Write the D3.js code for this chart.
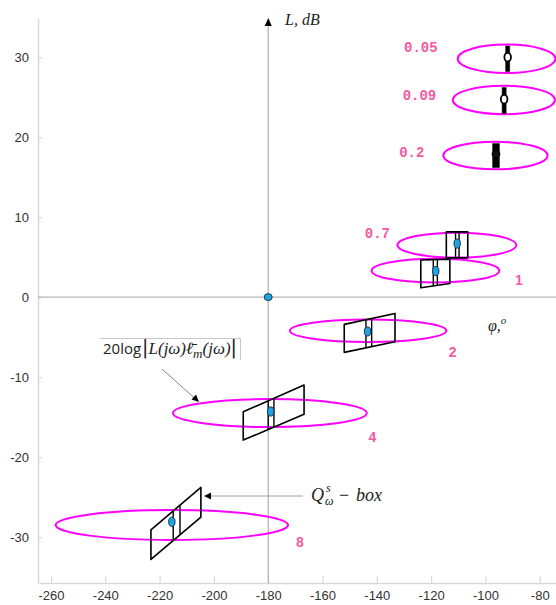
<!DOCTYPE html>
<html>
<head>
<meta charset="utf-8">
<script src="https://cdn.jsdelivr.net/npm/d3@7"></script>
<style>
  html, body { margin: 0; padding: 0; background: #fff; }
  svg { display: block; }
</style>
</head>
<body>
<svg id="chart" width="556" height="605"></svg>
<script>
// Frequencies (rad/s) at which the templates are drawn
const omegas = ["0.05", "0.09", "0.2", "0.7", "1", "2", "4", "8"];
// Nominal open-loop response: phase (deg) and magnitude (dB)
const nomPhase = [-91.8, -93.1, -96.1, -110.4, -118.3, -143.4, -179.1, -215.5];
const nomGain = [30.0, 24.75, 17.9, 6.7, 3.25, -4.3, -14.3, -28.1];
const markerKind = ["open", "open", "solid", "blue", "blue", "blue", "blue", "blue"];

// Uncertainty ellipses 20log|L(jw) l_m(jw)|: centre and half-axes
const ellPhase = [-92.2, -93.2, -96.3, -110.5, -118.4, -143.2, -179.4, -215.5];
const ellGain = [29.8, 24.65, 17.7, 6.5, 3.3, -4.2, -14.5, -28.5];
const ellHalfPhase = [18.0, 18.8, 19.2, 21.9, 23.5, 28.8, 35.7, 42.8];
const ellHalfGain = [1.78, 1.78, 1.72, 1.56, 1.48, 1.41, 1.75, 1.875];

// Q-boxes: phase extent and magnitude at the left / right edges
const boxPhaseLo = [-92.55, -93.85, -97.35, -114.4, -123.8, -152.0, -189.2, -223.2];
const boxPhaseHi = [-91.05, -92.35, -94.85, -106.5, -113.1, -133.3, -166.8, -204.8];
const boxTopLo = [31.4, 26.2, 19.2, 8.16, 4.63, -3.41, -14.34, -29.1];
const boxBotLo = [28.2, 22.96, 16.2, 4.91, 1.16, -6.91, -17.88, -32.8];
const boxTopHi = [31.4, 26.2, 19.2, 8.16, 4.75, -2.04, -11.0, -23.8];
const boxBotHi = [28.2, 22.96, 16.2, 4.91, 1.71, -5.59, -14.66, -27.5];
// inner phase lines of each box (null where the box is a thin bar)
const innerLo = [null, null, null, -111.0, -119.2, -144.0, -180.0, -215.0];
const innerHi = [null, null, null, -109.7, -117.7, -141.9, -177.9, -212.5];

// Critical point
const critical = [{ phase: -180, gain: 0 }];

// Axis ticks
const phaseTicks = [-260, -240, -220, -200, -180, -160, -140, -120, -100, -80];
const gainTicks = [-30, -20, -10, 0, 10, 20, 30];

const svg = d3.select("#chart");
const x = d3.scaleLinear().domain([-264.8, -74]).range([38, 556]);
const y = d3.scaleLinear().domain([-35.75, 34.9]).range([583, 18]);

const axisColor = "#d9d9d9";
const labelColor = "#f25aa3";

// Left and bottom axes (ticks pointing inwards)
const gy = svg.append("g").attr("transform", `translate(${x.range()[0]},0)`)
  .call(d3.axisLeft(y).tickValues(gainTicks).tickSize(-4).tickSizeOuter(0).tickPadding(9));
const gx = svg.append("g").attr("transform", `translate(0,${y.range()[0]})`)
  .call(d3.axisBottom(x).tickValues(phaseTicks).tickSize(-7).tickSizeOuter(0).tickPadding(8));
[gx, gy].forEach(g => {
  g.select(".domain").attr("stroke", axisColor).attr("stroke-width", 1.5);
  g.selectAll(".tick line").attr("stroke", axisColor).attr("stroke-width", 1.2);
  g.selectAll(".tick text").attr("fill", "#333").style("font-family", "'Liberation Sans', Arial, sans-serif").style("font-size", "13px");
});
gx.selectAll(".tick text").text(d => d3.format("d")(d).replace("−", "-"));
gy.selectAll(".tick text").text(d => d3.format("d")(d).replace("−", "-"));

// Reference lines through the critical point
svg.append("line")
  .attr("x1", x.range()[0]).attr("x2", x.range()[1])
  .attr("y1", y(0)).attr("y2", y(0))
  .attr("stroke", "#a6a6a6").attr("stroke-width", 1);
svg.append("line")
  .attr("x1", x(-180)).attr("x2", x(-180))
  .attr("y1", y.range()[0]).attr("y2", y.range()[1] + 6)
  .attr("stroke", "#b0b0b0").attr("stroke-width", 1.2);
svg.append("path")
  .attr("d", `M${x(-180)},${y.range()[1]} l-3.5,8 h7 z`)
  .attr("fill", "#000");

// Axis titles
svg.append("text")
  .attr("x", 285).attr("y", 25)
  .style("font-family", "'Liberation Serif', 'DejaVu Serif', serif")
  .style("font-style", "italic").style("font-size", "16px").attr("fill", "#222")
  .text("L, dB");
const phiTitle = svg.append("text")
  .attr("x", 488).attr("y", 331)
  .style("font-family", "'Liberation Serif', 'DejaVu Serif', serif")
  .style("font-style", "italic").style("font-size", "16px").attr("fill", "#222");
phiTitle.append("tspan").text("φ,");
phiTitle.append("tspan").attr("dy", -7).style("font-size", "11px").text("o");

const idx = d3.range(omegas.length);

// Uncertainty ellipses
svg.append("g").selectAll("ellipse").data(idx).join("ellipse")
  .attr("cx", i => x(ellPhase[i]))
  .attr("cy", i => y(ellGain[i]))
  .attr("rx", i => x(ellPhase[i] + ellHalfPhase[i]) - x(ellPhase[i]))
  .attr("ry", i => y(ellGain[i] - ellHalfGain[i]) - y(ellGain[i]))
  .attr("fill", "none").attr("stroke", "#ff00ff").attr("stroke-width", 2);

// Q-boxes
const boxes = svg.append("g");
idx.forEach(i => {
  const corners = [
    [x(boxPhaseLo[i]), y(boxTopLo[i])],
    [x(boxPhaseHi[i]), y(boxTopHi[i])],
    [x(boxPhaseHi[i]), y(boxBotHi[i])],
    [x(boxPhaseLo[i]), y(boxBotLo[i])]
  ];
  const isBar = innerLo[i] === null;
  boxes.append("path")
    .attr("d", "M" + corners.join("L") + "Z")
    .attr("fill", isBar ? "#000" : "none")
    .attr("stroke", "#000")
    .attr("stroke-width", isBar ? 0.5 : 1.6)
    .attr("stroke-linejoin", "round");
  if (!isBar) {
    // magnitude of the top / bottom edge at a given phase
    const lerp = (a, b, p) => a + (b - a) * (p - boxPhaseLo[i]) / (boxPhaseHi[i] - boxPhaseLo[i]);
    [innerLo[i], innerHi[i]].forEach(p => {
      boxes.append("line")
        .attr("x1", x(p)).attr("x2", x(p))
        .attr("y1", y(lerp(boxTopLo[i], boxTopHi[i], p)))
        .attr("y2", y(lerp(boxBotLo[i], boxBotHi[i], p)))
        .attr("stroke", "#000").attr("stroke-width", 1.4);
    });
  }
});

// Nominal points
const marks = svg.append("g");
idx.forEach(i => {
  const k = markerKind[i];
  marks.append("ellipse")
    .attr("cx", x(nomPhase[i])).attr("cy", y(nomGain[i]))
    .attr("rx", k === "blue" ? 3.2 : k === "solid" ? 4 : 3.3)
    .attr("ry", k === "blue" ? 4.6 : k === "solid" ? 3.5 : 4.3)
    .attr("fill", k === "open" ? "#fff" : k === "solid" ? "#111" : "#1ea3e3")
    .attr("stroke", k === "blue" ? "#1b3550" : "#000")
    .attr("stroke-width", k === "open" ? 1.8 : 1);
});
marks.selectAll("ellipse.crit").data(critical).join("ellipse")
  .attr("class", "crit")
  .attr("cx", d => x(d.phase)).attr("cy", d => y(d.gain))
  .attr("rx", 4).attr("ry", 3.5)
  .attr("fill", "#1ea3e3").attr("stroke", "#1b3550").attr("stroke-width", 1);

// Frequency labels, anchored in (phase, dB) coordinates at their baseline centre
const labelAnchor = [
  [-123.8, 30.66], [-124.3, 24.6], [-127.1, 17.5], [-139.8, 7.44],
  [-87.7, 1.5], [-112.1, -7.46], [-141.6, -18.1], [-168.3, -31.25]
];
svg.append("g").selectAll("text").data(idx).join("text")
  .attr("x", i => x(labelAnchor[i][0]))
  .attr("y", i => y(labelAnchor[i][1]))
  .attr("text-anchor", "middle")
  .attr("fill", labelColor)
  .style("font-family", i => omegas[i].includes(".") ? "'Liberation Mono', 'DejaVu Sans Mono', monospace" : "'Liberation Sans', Arial, sans-serif")
  .style("font-weight", "bold")
  .style("font-size", "14px")
  .text(i => omegas[i]);

// Annotation: ellipse description
svg.append("path")
  .attr("d", "M100,338.5 H240.5 V360")
  .attr("fill", "none").attr("stroke", "#c8c8c8").attr("stroke-width", 1);
const ann = svg.append("text").attr("x", 103).attr("y", 354).attr("fill", "#222");
ann.append("tspan").style("font-family", "'Open Sans', 'Liberation Sans', sans-serif").style("font-size", "15px").text("20log");
ann.append("tspan").style("font-family", "'DejaVu Sans', sans-serif").style("font-size", "19px").attr("dx", 1).text("|");
ann.append("tspan").style("font-family", "'Liberation Serif', 'DejaVu Serif', serif").style("font-style", "italic").style("font-size", "17px").text("L(jω)ℓ̄");
ann.append("tspan").style("font-family", "'Liberation Serif', 'DejaVu Serif', serif").style("font-style", "italic").style("font-size", "13px").attr("dy", 4).text("m");
ann.append("tspan").style("font-family", "'Liberation Serif', 'DejaVu Serif', serif").style("font-style", "italic").style("font-size", "17px").attr("dy", -4).text("(jω)");
ann.append("tspan").style("font-family", "'DejaVu Sans', sans-serif").style("font-size", "19px").text("|");

svg.append("line")
  .attr("x1", 162).attr("y1", 369).attr("x2", 195).attr("y2", 398.5)
  .attr("stroke", "#666").attr("stroke-width", 0.8);
svg.append("path")
  .attr("d", "M199,402 L191.5,399.5 L196,394.5 Z")
  .attr("fill", "#000");

// Annotation: Q-box description
svg.append("line")
  .attr("x1", 303).attr("y1", 496).attr("x2", 210).attr("y2", 496)
  .attr("stroke", "#888").attr("stroke-width", 0.8);
svg.append("path")
  .attr("d", "M204,496 L211,492.5 L211,499.5 Z")
  .attr("fill", "#000");
const serif = "'Liberation Serif', 'DejaVu Serif', serif";
svg.append("text").attr("x", 311).attr("y", 501)
  .style("font-family", serif).style("font-style", "italic").style("font-size", "18px")
  .attr("fill", "#222").text("Q");
svg.append("text").attr("x", 326).attr("y", 492)
  .style("font-family", serif).style("font-style", "italic").style("font-size", "12px")
  .attr("fill", "#222").text("s");
svg.append("text").attr("x", 325).attr("y", 505)
  .style("font-family", serif).style("font-style", "italic").style("font-size", "12px")
  .attr("fill", "#222").text("ω");
svg.append("text").attr("x", 339).attr("y", 501)
  .style("font-family", serif).style("font-size", "18px")
  .attr("fill", "#222").text("−");
svg.append("text").attr("x", 356).attr("y", 501)
  .style("font-family", serif).style("font-style", "italic").style("font-size", "18px")
  .attr("fill", "#222").text("box");
</script>
</body>
</html>
